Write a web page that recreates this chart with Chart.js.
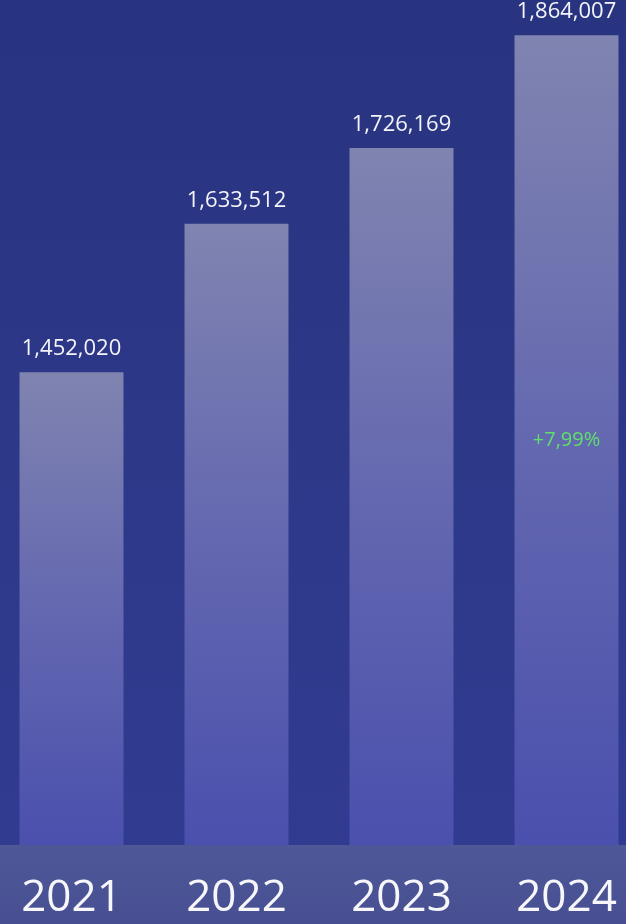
<!DOCTYPE html>
<html>
<head>
<meta charset="utf-8">
<script src="https://cdn.jsdelivr.net/npm/chart.js@4.4.1/dist/chart.umd.min.js"></script>
<style>
  html, body { margin: 0; padding: 0; width: 626px; height: 924px; overflow: hidden; background: #2b3683; }
  .wrap { position: absolute; left: -11px; top: 0; width: 660px; height: 924px; }
</style>
</head>
<body>
<div class="wrap"><canvas id="chart"></canvas></div>
<script>
// ---- data ----
const years = ['2021', '2022', '2023', '2024'];
const totals = [1452020, 1633512, 1726169, 1864007];
const growthLabels = ['', '', '', '+7,99%'];
const yMin = 874000;
const yMax = 1907000;

const fmt = v => v.toLocaleString('en-US');

// background + bottom band behind the bars
const backdrop = {
    id: 'backdrop',
    beforeDraw(chart) {
        const { ctx, chartArea, width, height } = chart;
        ctx.save();
        const bg = ctx.createLinearGradient(0, 0, 0, chartArea.bottom);
        bg.addColorStop(0, '#28347f');
        bg.addColorStop(1, '#313c91');
        ctx.fillStyle = bg;
        ctx.fillRect(0, 0, width, chartArea.bottom);
        const band = ctx.createLinearGradient(0, chartArea.bottom, 0, height);
        band.addColorStop(0, '#4e5897');
        band.addColorStop(1, '#474f92');
        ctx.fillStyle = band;
        ctx.fillRect(0, chartArea.bottom, width, height - chartArea.bottom);
        ctx.restore();
    }
};

// value labels above bars, growth label in the middle of the bar
const barLabels = {
    id: 'barLabels',
    afterDatasetsDraw(chart) {
        const { ctx, chartArea } = chart;
        const meta = chart.getDatasetMeta(0);
        ctx.save();
        ctx.textAlign = 'center';
        ctx.textBaseline = 'middle';
        meta.data.forEach((bar, i) => {
            ctx.font = '22px "Open Sans", sans-serif';
            ctx.fillStyle = '#f4f4fa';
            ctx.fillText(fmt(totals[i]), bar.x, bar.y - 23);
            if (growthLabels[i]) {
                ctx.font = '20px "Open Sans", sans-serif';
                ctx.fillStyle = '#5fe06a';
                ctx.fillText(growthLabels[i], bar.x, (bar.y + chartArea.bottom) / 2);
            }
        });
        ctx.restore();
    }
};

new Chart(document.getElementById('chart'), {
    type: 'bar',
    data: {
        labels: years,
        datasets: [{
            data: totals,
            backgroundColor(c) {
                const chart = c.chart;
                if (!chart.chartArea || !chart.scales.y) return '#6a6fb0';
                const top = chart.scales.y.getPixelForValue(totals[c.dataIndex]);
                const g = chart.ctx.createLinearGradient(0, top, 0, chart.chartArea.bottom);
                g.addColorStop(0, '#8084b0');
                g.addColorStop(0.5, '#6468b0');
                g.addColorStop(1, '#4a50ad');
                return g;
            },
            borderWidth: 0,
            barPercentage: 0.63,
            categoryPercentage: 1
        }]
    },
    options: {
        responsive: true,
        maintainAspectRatio: false,
        animation: false,
        layout: { padding: 0 },
        plugins: {
            legend: { display: false },
            tooltip: { enabled: false }
        },
        scales: {
            x: {
                grid: { display: false, drawTicks: false },
                border: { display: false },
                afterFit(s) { s.height = 79; },
                ticks: {
                    color: '#f6f6fb',
                    padding: 27,
                    font: { family: '"Open Sans", sans-serif', size: 44 }
                }
            },
            y: {
                display: false,
                min: yMin,
                max: yMax
            }
        }
    },
    plugins: [backdrop, barLabels]
});
</script>
</body>
</html>
